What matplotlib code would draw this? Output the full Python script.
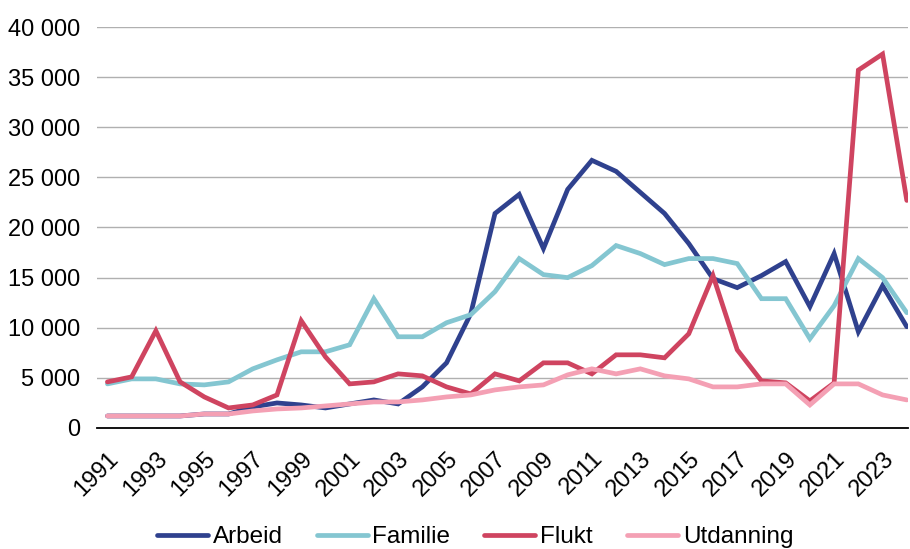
import matplotlib.pyplot as plt
import matplotlib.ticker as mticker
import numpy as np

plt.rcParams['font.family'] = ['Liberation Sans', 'DejaVu Sans']

years = np.arange(1991, 2025)

arbeid = [1200, 1200, 1200, 1200, 1400, 1400, 2100, 2500, 2300, 2000,
          2400, 2800, 2400, 4100, 6500, 11400, 21400, 23300, 17900, 23800,
          26700, 25600, 23500, 21400, 18400, 14900, 14000, 15200, 16600, 12100,
          17400, 9600, 14200, 10100]
familie = [4400, 4900, 4900, 4400, 4300, 4600, 5900, 6800, 7600, 7600,
           8300, 12900, 9100, 9100, 10500, 11300, 13600, 16900, 15300, 15000,
           16200, 18200, 17400, 16300, 16900, 16900, 16400, 12900, 12900, 8900,
           12200, 16900, 15000, 11500]
flukt = [4600, 5100, 9700, 4600, 3100, 2000, 2300, 3300, 10700, 7100,
         4400, 4600, 5400, 5200, 4100, 3400, 5400, 4700, 6500, 6500,
         5400, 7300, 7300, 7000, 9400, 15200, 7800, 4700, 4500, 2700,
         4500, 35700, 37300, 22700]
utdanning = [1200, 1200, 1200, 1200, 1400, 1400, 1700, 1900, 2000, 2200,
             2400, 2600, 2600, 2800, 3100, 3300, 3800, 4100, 4300, 5300,
             5900, 5400, 5900, 5200, 4900, 4100, 4100, 4400, 4400, 2300,
             4400, 4400, 3300, 2800]

series = [('Arbeid', arbeid, '#2f418e'),
          ('Familie', familie, '#84c6d1'),
          ('Flukt', flukt, '#cf4460'),
          ('Utdanning', utdanning, '#f4a0b4')]

fig = plt.figure(figsize=(9.1, 5.49), dpi=100)
ax = fig.add_axes([97/910, 1 - 428/549, 811/910, 401/549])

for name, vals, col in series:
    ax.plot(years, vals, color=col, linewidth=3.4, label=name,
            solid_joinstyle='miter', solid_capstyle='round')

ax.set_ylim(0, 40000)
ax.set_xlim(1990.57, 2024.05)
ax.set_yticks(np.arange(0, 40001, 5000))
ax.yaxis.set_major_formatter(mticker.FuncFormatter(
    lambda v, p: f'{int(v):,}'.replace(',', ' ')))
ax.set_xticks(years[::2])
ax.set_xticklabels([str(y) for y in years[::2]], rotation=45,
                   ha='right', rotation_mode='anchor')

ax.grid(axis='y', color='#b0b0b0', linewidth=1)
ax.set_axisbelow(True)
for s in ['top', 'right', 'left']:
    ax.spines[s].set_visible(False)
ax.spines['bottom'].set_color('black')
ax.spines['bottom'].set_linewidth(1.3)
ax.tick_params(axis='both', length=0, labelsize=17)
ax.tick_params(axis='y', pad=12)
ax.tick_params(axis='x', pad=14)

fig.legend(loc='center', bbox_to_anchor=(475/910, 1 - 537/549), ncol=4,
           frameon=False, fontsize=17.5, handlelength=2.1, handletextpad=0.2,
           columnspacing=1.4)

fig.savefig('out.png', dpi=100)
